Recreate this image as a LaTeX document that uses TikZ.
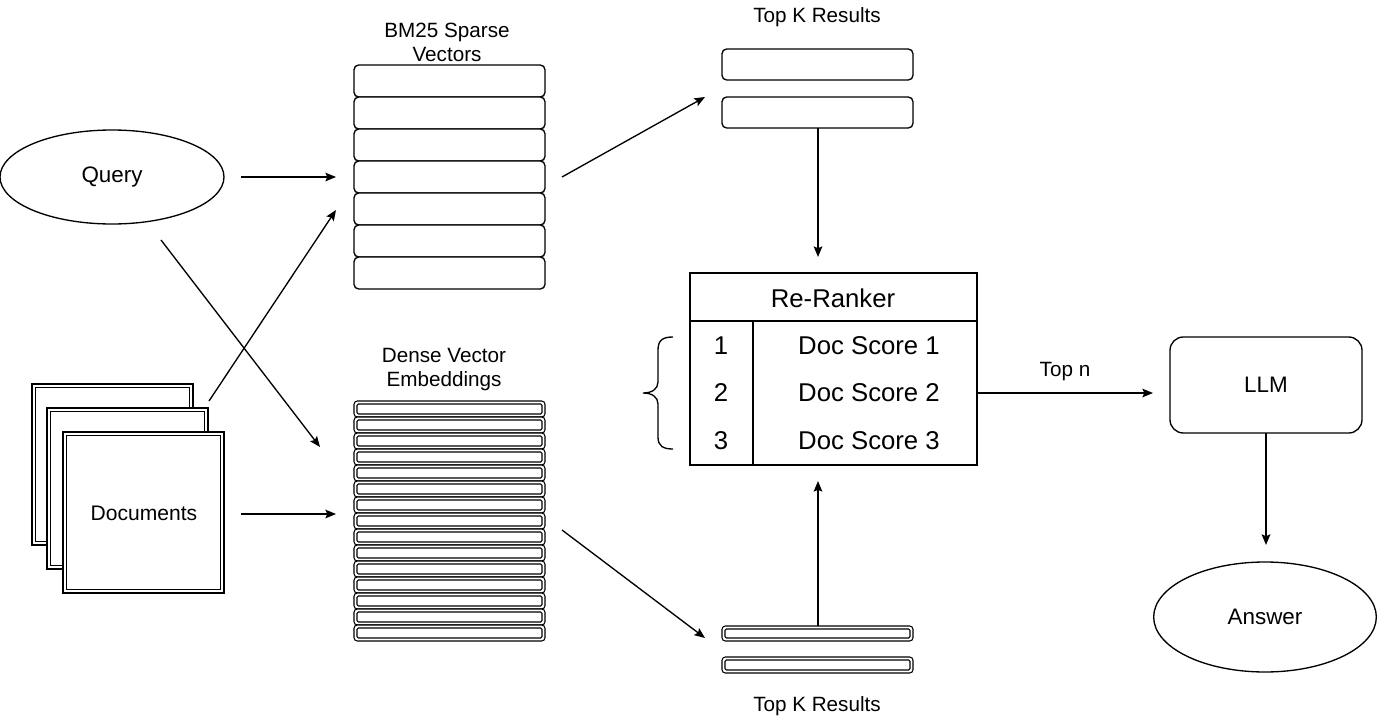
\documentclass[tikz,border=0pt]{standalone}
\usepackage{fontspec}
\setmainfont{Liberation Sans}
\usetikzlibrary{shapes.geometric,arrows.meta}
\begin{document}
\begin{tikzpicture}[x=0.75pt,y=-0.75pt,
  line width=1pt,
  arr/.style={-{Stealth[length=8pt,width=6.5pt,inset=1.5pt]}},
  lbl/.style={font=\fontsize{15.5}{18}\selectfont, align=center, inner sep=0pt},
  big/.style={font=\fontsize{19.3}{22}\selectfont, inner sep=0pt},
  sprow/.style={draw, rounded corners=3.5pt, fill=white},
  dnout/.style={draw, line width=0.8pt, rounded corners=2.5pt, fill=white},
  dnin/.style={draw, line width=0.8pt, rounded corners=1pt},
  docsq/.style={draw, line width=1.1pt, fill=white},
  ell/.style={draw, ellipse, inner sep=0pt, font=\fontsize{16.8}{20}\selectfont}
]
\useasboundingbox (0,0) rectangle (1379,721);

% Query
\node[ell, minimum width=168pt, minimum height=70.5pt] (query) at (112,177) {Query};

% Documents
\foreach \dx/\dy in {32/384,47/408,63/432}{
  \draw[docsq] (\dx,\dy) rectangle ({\dx+161},{\dy+161});
  \draw[line width=0.9pt] ({\dx+3.5},{\dy+3.5}) rectangle ({\dx+157.5},{\dy+157.5});
}
\node[inner sep=0pt, font=\fontsize{15.8}{18}\selectfont] (docs) at (144,513) {Documents};

% BM25 sparse
\node[lbl] (bmlbl) at (447,42) {BM25 Sparse\\Vectors};
\foreach \i in {0,...,6}{
  \draw[sprow] (354,{65+32*\i}) rectangle (545,{97+32*\i});
}

% Dense vector embeddings
\node[lbl] (dnlbl) at (444,370) {Dense Vector\\Embeddings};
\foreach \i in {0,...,14}{
  \draw[dnout] (354,{401+16*\i}) rectangle (545,{417+16*\i});
  \draw[dnin] (357,{404+16*\i}) rectangle (542,{414+16*\i});
}

% Top K results (top)
\node[lbl] (tklbl1) at (817,17) {Top K Results};
\draw[sprow] (722,49) rectangle (913,80);
\draw[sprow] (722,97) rectangle (913,128);

% Top K results (bottom)
\node[lbl] (tklbl2) at (817,706) {Top K Results};
\draw[dnout] (722,626) rectangle (913,641);
\draw[dnin] (725,629) rectangle (910,638);
\draw[dnout] (722,657) rectangle (913,673);
\draw[dnin] (725,660) rectangle (910,670);

% Re-Ranker table
\draw (690,273) rectangle (977,465);
\draw (690,321) -- (977,321);
\draw (753,321) -- (753,465);
\node[big] (rr) at (833,298) {Re-Ranker};
\node[big] (n1) at (721,346) {1};
\node[big] (n2) at (721,393) {2};
\node[big] (n3) at (721,441) {3};
\node[big] (s1) at (869,346) {Doc Score 1};
\node[big] (s2) at (869,393) {Doc Score 2};
\node[big] (s3) at (869,441) {Doc Score 3};

% Brace
\draw (673,337) .. controls (663,337) and (658,340) .. (658,350) -- (658,382)
  .. controls (658,389) and (652,393) .. (643,393)
  .. controls (652,393) and (658,397) .. (658,404) -- (658,437)
  .. controls (658,446) and (663,449) .. (673,449);

% LLM
\node[draw, rounded corners=10pt, minimum width=144pt, minimum height=72pt,
  font=\fontsize{16.8}{20}\selectfont] (llm) at (1266,385) {LLM};

% Answer
\node[ell, minimum width=167pt, minimum height=82.5pt] (answer) at (1265,617) {Answer};

% connector end points
\coordinate (qa) at (241,177);  \coordinate (qb) at (336,177);
\coordinate (qc) at (161,240);  \coordinate (qd) at (320,447);
\coordinate (da) at (209,401);  \coordinate (db) at (336,210);
\coordinate (dc) at (241,514);  \coordinate (dd) at (336,514);
\coordinate (sa) at (562,177);  \coordinate (sb) at (705,97);
\coordinate (ea) at (562,530);  \coordinate (eb) at (705,638);
\coordinate (ta) at (818,128);  \coordinate (tb) at (818,257);
\coordinate (ba) at (818,626);  \coordinate (bb) at (818,481);
\coordinate (ra) at (977,393);  \coordinate (rb) at (1153,393);
\coordinate (la) at (1266,433); \coordinate (lb) at (1266,545);

\draw[arr] (qa) -- (qb);
\draw[arr] (qc) -- (qd);
\draw[arr] (da) -- (db);
\draw[arr] (dc) -- (dd);
\draw[arr] (sa) -- (sb);
\draw[arr] (ea) -- (eb);
\draw[arr] (ta) -- (tb);
\draw[arr] (ba) -- (bb);
\draw[arr] (ra) -- node[lbl, above=9pt] (topn) {Top n} (rb);
\draw[arr, line width=1.3pt] (la) -- (lb);
\end{tikzpicture}
\end{document}
